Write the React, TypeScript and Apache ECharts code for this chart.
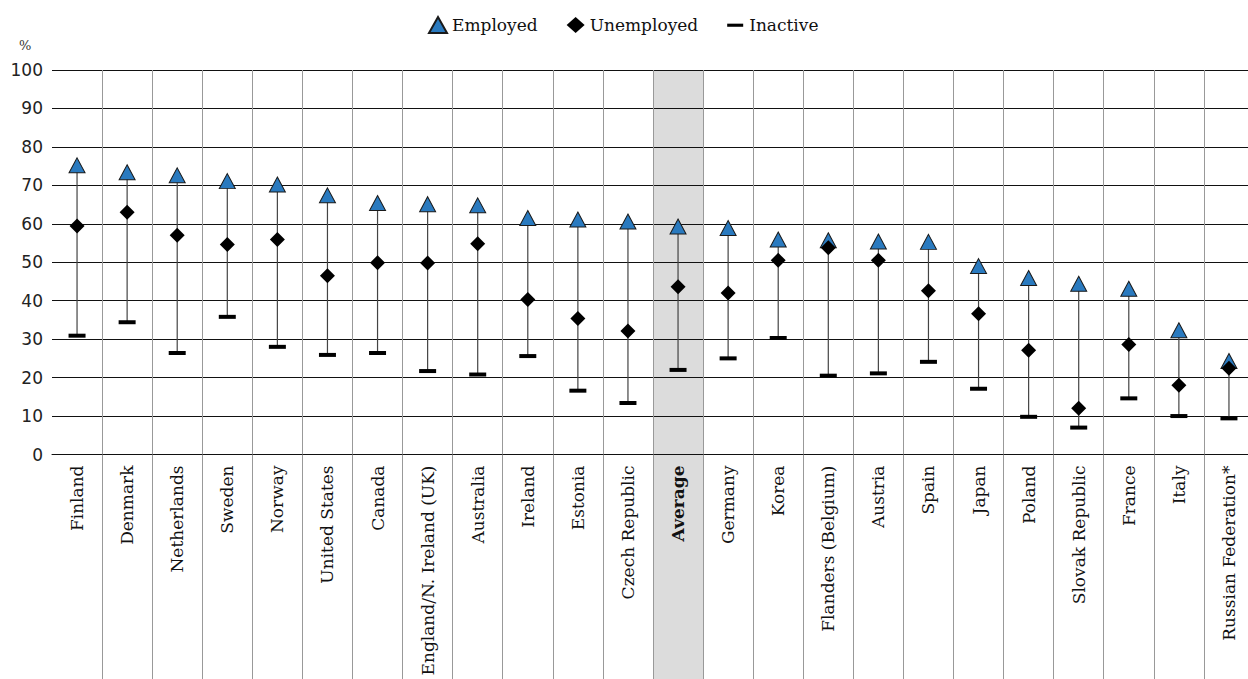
import React, { useEffect, useRef } from "react";
import * as echarts from "echarts";

const categories = [
  "Finland", "Denmark", "Netherlands", "Sweden", "Norway", "United States", "Canada",
  "England/N. Ireland (UK)", "Australia", "Ireland", "Estonia", "Czech Republic", "Average",
  "Germany", "Korea", "Flanders (Belgium)", "Austria", "Spain", "Japan", "Poland",
  "Slovak Republic", "France", "Italy", "Russian Federation*",
];
const employed = [75.2, 73.4, 72.6, 71.1, 70.2, 67.4, 65.4, 65.1, 64.8, 61.5, 61.1, 60.6, 59.3, 58.9, 55.9, 55.7, 55.4, 55.3, 49.0, 45.9, 44.4, 43.1, 32.3, 24.3];
const unemployed = [59.4, 63.0, 57.0, 54.6, 55.9, 46.5, 49.9, 49.8, 54.8, 40.3, 35.4, 32.1, 43.6, 42.0, 50.5, 53.8, 50.5, 42.6, 36.6, 27.1, 12.0, 28.6, 18.0, 22.4];
const inactive = [30.9, 34.4, 26.4, 35.8, 28.0, 25.9, 26.4, 21.7, 20.8, 25.6, 16.6, 13.4, 22.0, 25.0, 30.3, 20.5, 21.1, 24.1, 17.1, 9.8, 7.0, 14.6, 10.0, 9.4];
const highlightCategory = "Average";
const yTicks = { min: 0, max: 100, interval: 10 };

const SERIF = "'DejaVu Serif', serif";
const SANS = "'DejaVu Sans', sans-serif";
const W = 1256;
const H = 679;

export default function App() {
  const ref = useRef<HTMLDivElement>(null);
  useEffect(() => {
    document.body.style.margin = "0";
    document.body.style.overflow = "hidden";
    document.documentElement.style.overflow = "hidden";
    const chart = echarts.init(ref.current!, undefined, { renderer: "svg" });
    const rangeData = categories.map((_, i) => [i, inactive[i], employed[i]]);
    const shade = categories.map((c) => (c === highlightCategory ? yTicks.max : null));
    const pct = { type: "text", left: 19, top: 39, style: { text: "%", fontFamily: SERIF, fontSize: 13, fill: "#333" } };
    const option: any = {
      animation: false,
      backgroundColor: "#fff",
      grid: { left: 52, top: 70, right: 2, bottom: 224.5 },
      legend: {
        top: 11,
        left: 423,
        itemWidth: 18,
        itemHeight: 16,
        itemGap: 29,
        textStyle: { fontFamily: SERIF, fontSize: 17, color: "#111" },
        data: [
          { name: "Employed", icon: "triangle" },
          { name: "Unemployed", icon: "diamond" },
          { name: "Inactive", icon: "path://M0,0M0,7.5h18v3.5h-18zM18,18" },
        ],
      },
      graphic: [pct],
      xAxis: {
        type: "category",
        data: categories,
        boundaryGap: true,
        axisLine: { show: true, lineStyle: { color: "#111", width: 1 } },
        axisTick: { show: true, length: 226, interval: (i: number) => i > 0, lineStyle: { color: "#999", width: 1 } },
        splitLine: { show: true, interval: (i: number) => i > 0, lineStyle: { color: "#999", width: 1 } },
        axisLabel: {
          interval: 0,
          rotate: 90,
          margin: 11,
          fontFamily: SERIF,
          fontSize: 17,
          color: "#111",
          formatter: (v: string) => (v === highlightCategory ? `{b|${v}}` : v),
          rich: { b: { fontWeight: "bold", fontFamily: SERIF, fontSize: 17, color: "#111" } },
        },
      },
      yAxis: {
        type: "value",
        min: yTicks.min,
        max: yTicks.max,
        interval: yTicks.interval,
        axisLine: { show: false },
        axisTick: { show: false },
        splitLine: { show: true, lineStyle: { color: "#111", width: 1 } },
        axisLabel: { fontFamily: SANS, fontSize: 17, color: "#222", margin: 9 },
      },
      series: [
        {
          name: "shade",
          type: "bar",
          data: shade,
          barWidth: "100%",
          itemStyle: { color: "#dcdcdc" },
          z: -1,
          silent: true,
        },
        {
          name: "range",
          type: "custom",
          data: rangeData,
          renderItem: (params: any, api: any) => {
            const p1 = api.coord([api.value(0), api.value(1)]);
            const p2 = api.coord([api.value(0), api.value(2)]);
            return {
              type: "line",
              shape: { x1: p1[0], y1: p1[1], x2: p2[0], y2: p2[1] },
              style: { stroke: "#444", lineWidth: 1.2 },
            };
          },
          z: 2,
        },
        {
          name: "Inactive",
          type: "scatter",
          data: inactive,
          symbol: "rect",
          symbolSize: [17, 4],
          itemStyle: { color: "#000", opacity: 1 },
          z: 3,
        },
        {
          name: "Employed",
          type: "scatter",
          data: employed,
          symbol: "triangle",
          symbolSize: [16, 15],
          itemStyle: { color: "#2a7abf", borderColor: "#1a1a1a", borderWidth: 1, opacity: 1 },
          z: 4,
        },
        {
          name: "Unemployed",
          type: "scatter",
          data: unemployed,
          symbol: "diamond",
          symbolSize: [15, 15],
          itemStyle: { color: "#000", opacity: 1 },
          z: 5,
        },
      ],
    };
    chart.setOption(option);
    const idx = categories.indexOf(highlightCategory);
    const cx = chart.convertToPixel({ xAxisIndex: 0 }, idx) as number;
    const cx1 = chart.convertToPixel({ xAxisIndex: 0 }, idx + 1) as number;
    const bw = cx1 - cx;
    const y0 = chart.convertToPixel({ yAxisIndex: 0 }, 0) as number;
    chart.setOption({
      graphic: [
        pct,
        {
          type: "rect",
          z: -1,
          shape: { x: cx - bw / 2, y: y0, width: bw, height: H - y0 },
          style: { fill: "#dcdcdc" },
          silent: true,
        },
      ],
    });
    return () => chart.dispose();
  }, []);
  return <div ref={ref} style={{ width: W, height: H }} />;
}
